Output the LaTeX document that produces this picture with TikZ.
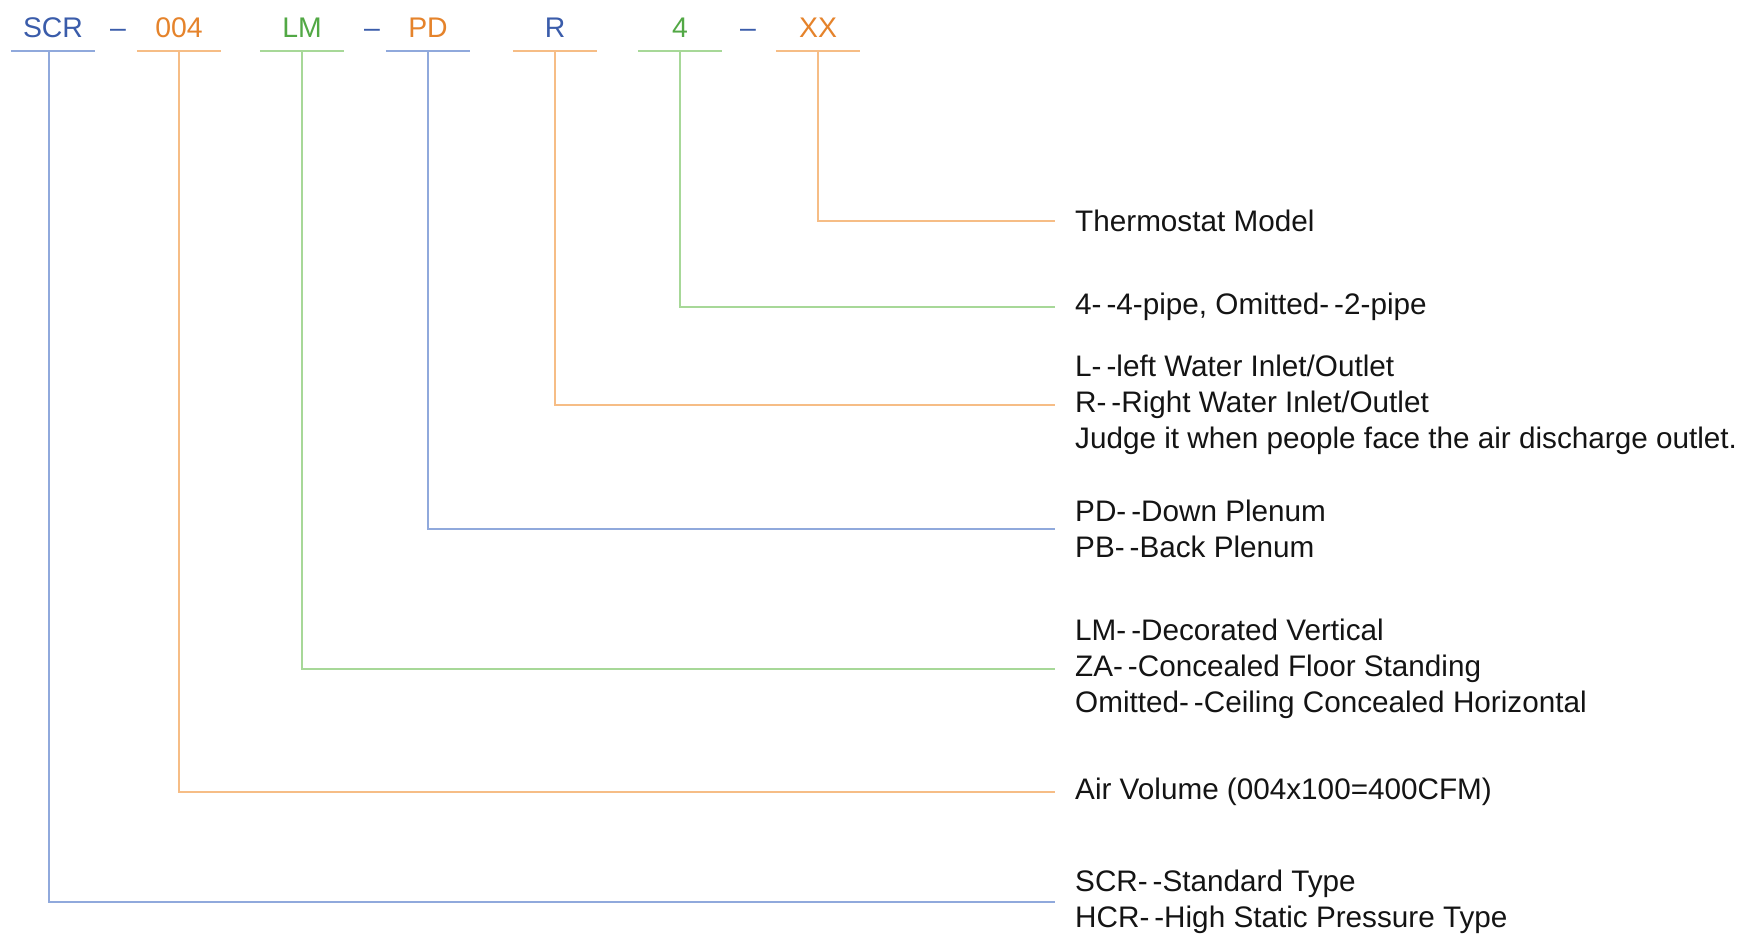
\documentclass[tikz,border=0pt]{standalone}
\usepackage{fontspec}
\setmainfont{Liberation Sans}
\usepackage{tikz}
\usetikzlibrary{positioning,calc}
\definecolor{codeblue}{HTML}{3A5CAA}
\definecolor{codeorange}{HTML}{E5832B}
\definecolor{codegreen}{HTML}{52A845}
\definecolor{lineblue}{HTML}{90A9DC}
\definecolor{lineorange}{HTML}{F6BD86}
\definecolor{linegreen}{HTML}{A7D898}
\definecolor{textgray}{HTML}{141414}

\begin{document}
\begin{tikzpicture}[x=1bp,y=-1bp,
    code/.style={inner sep=0pt,text height=20bp,text depth=12.5bp,
      minimum width=84bp,anchor=south,font=\fontsize{28.5}{32}\selectfont},
    sep/.style={inner sep=0pt,text height=20bp,text depth=12.5bp,
      anchor=south,text=codeblue,font=\fontsize{28.5}{32}\selectfont},
    desc/.style={anchor=west,inner sep=0pt,align=left,text=textgray,
      font=\fontsize{29.8}{36}\selectfont},
    lead/.style={line width=2bp,shorten >=20bp}]
  \useasboundingbox (0,0) rectangle (1759,934);

  % Model code across the top
  \node[code,text=codeblue]   (scr)   at (53,50.5)  {SCR};
  \node[sep]                  (dasha) at (118,50.5) {\textendash};
  \node[code,text=codeorange] (vol)   at (179,50.5) {004};
  \node[code,text=codegreen]  (typ)   at (302,50.5) {LM};
  \node[sep]                  (dashb) at (372,50.5) {\textendash};
  \node[code,text=codeorange] (plen)  at (428,50.5) {PD};
  \node[code,text=codeblue]   (side)  at (555,50.5) {R};
  \node[code,text=codegreen]  (pipe)  at (680,50.5) {4};
  \node[sep]                  (dashc) at (748,50.5) {\textendash};
  \node[code,text=codeorange] (tstat) at (818,50.5) {XX};

  % Underlines
  \draw[line width=2bp,lineblue]   (scr.south west)   -- (scr.south east);
  \draw[line width=2bp,lineorange] (vol.south west)   -- (vol.south east);
  \draw[line width=2bp,linegreen]  (typ.south west)   -- (typ.south east);
  \draw[line width=2bp,lineblue]   (plen.south west)  -- (plen.south east);
  \draw[line width=2bp,lineorange] (side.south west)  -- (side.south east);
  \draw[line width=2bp,linegreen]  (pipe.south west)  -- (pipe.south east);
  \draw[line width=2bp,lineorange] (tstat.south west) -- (tstat.south east);

  % Explanations
  \node[desc] (dtstat) at (1075,221) {Thermostat Model};
  \node[desc] (dpipe)  at (1075,307) {4-\,-4-pipe, Omitted-\,-2-pipe};
  \node[desc] (dside)  at (1075,405) {L-\,-left Water Inlet/Outlet\\
    R-\,-Right Water Inlet/Outlet\\
    Judge it when people face the air discharge outlet.};
  \node[desc] (dplen)  at (1075,529) {PD-\,-Down Plenum\\PB-\,-Back Plenum};
  \node[desc] (dtyp)   at (1075,669) {LM-\,-Decorated Vertical\\
    ZA-\,-Concealed Floor Standing\\
    Omitted-\,-Ceiling Concealed Horizontal};
  \node[desc] (dvol)   at (1075,792) {Air Volume (004x100=400CFM)};
  \node[desc] (dscr)   at (1075,902) {SCR-\,-Standard Type\\
    HCR-\,-High Static Pressure Type};

  % Leader lines
  \draw[lead,lineorange] (tstat.south) |- (dtstat.west);
  \draw[lead,linegreen]  (pipe.south)  |- (dpipe.west);
  \draw[lead,lineorange] (side.south)  |- (dside.west);
  \draw[lead,lineblue]   (plen.south)  |- (dplen.west);
  \draw[lead,linegreen]  (typ.south)   |- (dtyp.west);
  \draw[lead,lineorange] (vol.south)   |- (dvol.west);
  \draw[lead,lineblue]   ([xshift=-4bp]scr.south) |- (dscr.west);
\end{tikzpicture}
\end{document}
